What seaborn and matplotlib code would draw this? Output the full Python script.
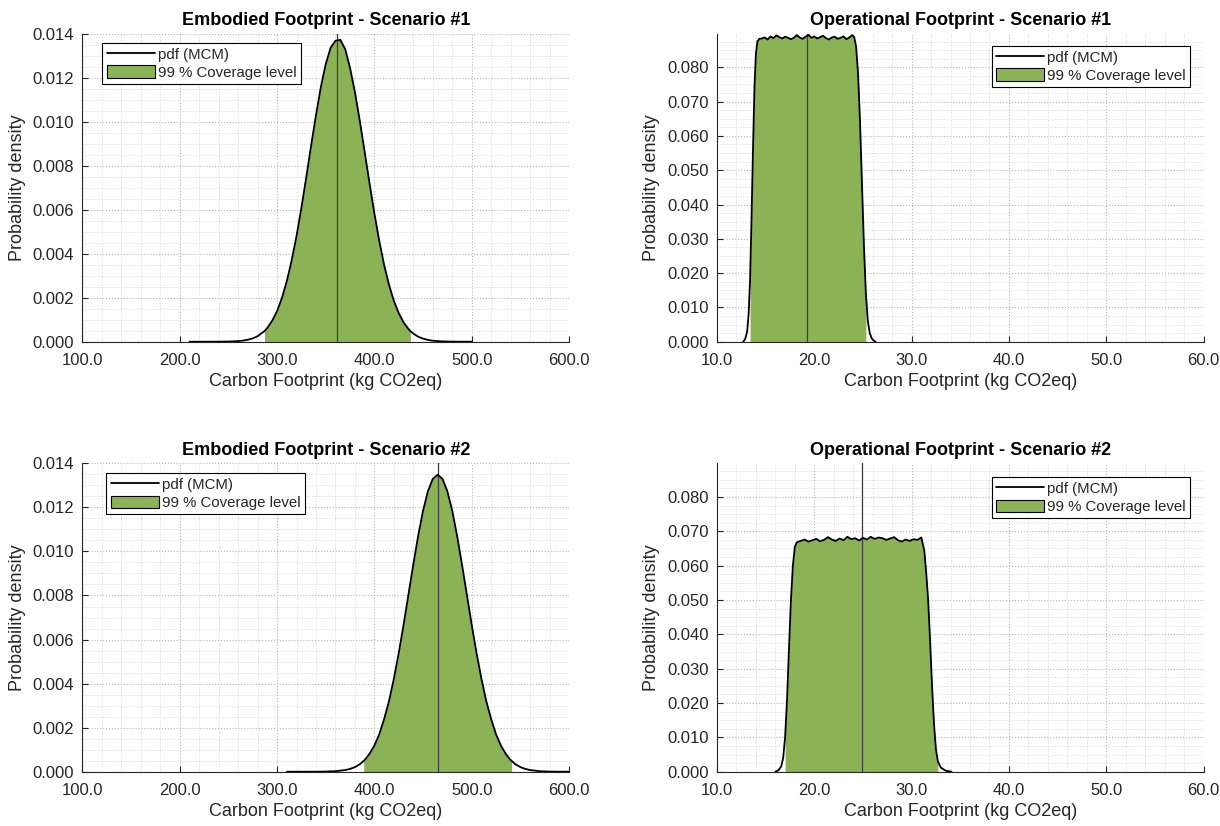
import numpy as np
import matplotlib
matplotlib.use("Agg")
import matplotlib.pyplot as plt
import seaborn as sns
from matplotlib.lines import Line2D
from matplotlib.patches import Patch
from matplotlib.ticker import MultipleLocator, FormatStrFormatter

# Embodied footprint, scenario 1
emb1_x = [210, 220, 230, 240, 250, 260, 265, 270, 275, 280, 287, 290, 295, 300, 305,
          310, 315, 320, 325, 330, 335, 340, 345, 350, 355, 360, 365, 370, 375, 380,
          385, 390, 395, 400, 405, 410, 415, 420, 425, 430, 435, 437, 440, 445, 450,
          455, 460, 470, 480, 490, 500]
emb1_pdf = [0.0, 0.0, 0.0, 0.000002, 0.000008, 0.000028, 0.000051, 0.00009, 0.000153,
            0.00025, 0.00048, 0.00063, 0.000954, 0.00139, 0.00199, 0.00275, 0.0037,
            0.00481, 0.00609, 0.00748, 0.00892, 0.0103, 0.01158, 0.01262, 0.01336,
            0.01368, 0.01372, 0.01330, 0.01244, 0.01134, 0.01004, 0.00863, 0.00720,
            0.00583, 0.00458, 0.00349, 0.00259, 0.00186, 0.0013, 0.00088, 0.00058,
            0.00048, 0.00037, 0.000228, 0.00014, 0.00008, 0.000046, 0.000014,
            0.000004, 0.000001, 0.0]
emb1_mean, emb1_lo, emb1_hi = 362, 287, 437

# Embodied footprint, scenario 2
emb2_x = [310, 320, 330, 340, 350, 360, 370, 375, 380, 385, 389, 390, 395, 400, 405,
          410, 415, 420, 425, 430, 435, 440, 445, 450, 455, 460, 465, 470, 475, 480,
          485, 490, 495, 500, 505, 510, 515, 520, 525, 530, 535, 540, 541, 545, 550,
          555, 560, 570, 580, 590, 600]
emb2_pdf = [0.0, 0.0, 0.0, 0.000002, 0.000007, 0.000024, 0.000076, 0.000129, 0.00021,
            0.00034, 0.00049, 0.00053, 0.00081, 0.00119, 0.0017, 0.00239, 0.0032,
            0.00422, 0.00538, 0.00667, 0.00804, 0.00941, 0.01071, 0.01185, 0.01273,
            0.01329, 0.01348, 0.01329, 0.01273, 0.01185, 0.01071, 0.00941, 0.00804,
            0.00667, 0.00538, 0.00422, 0.0032, 0.00239, 0.0017, 0.00119, 0.00081,
            0.00053, 0.00049, 0.00034, 0.00021, 0.000129, 0.000076, 0.000024,
            0.000007, 0.000002, 0.0]
emb2_mean, emb2_lo, emb2_hi = 465, 389, 541

# Operational footprint, scenario 1
op1_x = [12.7, 12.9, 13.1, 13.25, 13.4, 13.55, 13.7, 13.85, 14.0, 14.15, 14.35,
         14.6, 14.9, 15.2, 15.5, 15.8, 16.1, 16.4, 16.7, 17.0, 17.3, 17.6, 17.9,
         18.2, 18.5, 18.8, 19.1, 19.4, 19.7, 20.0, 20.3, 20.6, 20.9, 21.2, 21.5,
         21.8, 22.1, 22.4, 22.7, 23.0, 23.3, 23.6, 23.9,
         24.1, 24.3, 24.5, 24.7, 24.9, 25.1, 25.3, 25.5, 25.7, 25.9, 26.1, 26.3]
op1_pdf = [0.0, 0.0008, 0.003, 0.008, 0.018, 0.036, 0.056, 0.074, 0.084, 0.0875, 0.0883,
           0.0884, 0.0887, 0.0881, 0.0890, 0.0885, 0.0893, 0.0888, 0.0884, 0.0889,
           0.0886, 0.0882, 0.0886, 0.0894, 0.0887, 0.0883, 0.0889, 0.0895, 0.0886,
           0.0890, 0.0884, 0.0888, 0.0892, 0.0885, 0.0881, 0.0887, 0.0889, 0.0883,
           0.0886, 0.0890, 0.0882, 0.0887, 0.0894,
           0.0888, 0.0860, 0.0780, 0.0640, 0.0460, 0.0280, 0.0140, 0.0060, 0.0025,
           0.0010, 0.0003, 0.0]
op1_mean, op1_lo, op1_hi = 19.3, 13.4, 25.3

# Operational footprint, scenario 2
op2_x = [16.0, 16.3, 16.6, 16.8, 17.0, 17.2, 17.4, 17.6, 17.8, 18.0, 18.2,
         18.6, 19.0, 19.4, 19.8, 20.2, 20.6, 21.0, 21.4, 21.8, 22.2, 22.6, 23.0,
         23.4, 23.8, 24.2, 24.6, 25.0, 25.4, 25.8, 26.2, 26.6, 27.0, 27.4, 27.8,
         28.2, 28.6, 29.0, 29.4, 29.8, 30.2, 30.6,
         31.0, 31.3, 31.5, 31.7, 31.9, 32.1, 32.3, 32.5, 32.7, 33.0, 33.5, 34.1]
op2_pdf = [0.0, 0.0004, 0.0015, 0.004, 0.010, 0.021, 0.036, 0.050, 0.060, 0.0655, 0.0668,
           0.0672, 0.0676, 0.0670, 0.0674, 0.0678, 0.0671, 0.0675, 0.0683, 0.0676,
           0.0672, 0.0679, 0.0674, 0.0684, 0.0677, 0.0680, 0.0673, 0.0681, 0.0676,
           0.0684, 0.0678, 0.0682, 0.0680, 0.0675, 0.0679, 0.0683, 0.0674, 0.0670,
           0.0676, 0.0672, 0.0677, 0.0675,
           0.0682, 0.0645, 0.0580, 0.0500, 0.0380, 0.0250, 0.0140, 0.0065, 0.0030,
           0.0012, 0.0003, 0.0]
op2_mean, op2_lo, op2_hi = 24.9, 17.0, 32.7

titles = ["Embodied Footprint - Scenario #1", "Operational Footprint - Scenario #1",
          "Embodied Footprint - Scenario #2", "Operational Footprint - Scenario #2"]

green = "#8bb356"
txt = "#262626"

sns.set_style("ticks")
plt.rcParams["font.family"] = ["Liberation Sans", "DejaVu Sans"]

fig = plt.figure(figsize=(12.2, 8.26), dpi=100)

panels = [
    (emb1_x, emb1_pdf, emb1_mean, emb1_lo, emb1_hi, [0.0676, 0.5863, 0.3988, 0.3729],
     (100, 600), 100, 20, 0.014, 0.002, 0.0005, "upper left", (0.041, 0.971)),
    (op1_x, op1_pdf, op1_mean, op1_lo, op1_hi, [0.5877, 0.5863, 0.3988, 0.3729],
     (10, 60), 10, 2, 0.0898, 0.01, 0.0025, "upper right", (0.973, 0.961)),
    (emb2_x, emb2_pdf, emb2_mean, emb2_lo, emb2_hi, [0.0676, 0.0657, 0.3988, 0.3734],
     (100, 600), 100, 20, 0.014, 0.002, 0.0005, "upper left", (0.049, 0.969)),
    (op2_x, op2_pdf, op2_mean, op2_lo, op2_hi, [0.5877, 0.0657, 0.3988, 0.3734],
     (10, 60), 10, 2, 0.0898, 0.01, 0.0025, "upper right", (0.973, 0.956)),
]

for title, (xs, ys, mu, lo, hi, pos, xl, xmaj, xmin, ytop, ymaj, ymin, loc, anchor) in zip(titles, panels):
    ax = fig.add_axes(pos)
    xa = np.array(xs)
    ya = np.array(ys)

    # coverage interval, mean line, then the pdf on top
    ax.fill_between(xa, ya, where=(xa >= lo) & (xa <= hi), color=green, linewidth=0, zorder=2)
    ax.axvline(mu, color="#3c3c3c", linewidth=0.9, zorder=3)
    sns.lineplot(x=xa, y=ya, ax=ax, color="black", linewidth=1.3, estimator=None,
                 sort=False, zorder=4)

    ax.set_xlim(*xl)
    ax.set_ylim(0, ytop)
    ax.xaxis.set_major_locator(MultipleLocator(xmaj))
    ax.xaxis.set_minor_locator(MultipleLocator(xmin))
    ax.yaxis.set_major_locator(MultipleLocator(ymaj))
    ax.yaxis.set_minor_locator(MultipleLocator(ymin))
    ax.xaxis.set_major_formatter(FormatStrFormatter("%.1f"))
    ax.yaxis.set_major_formatter(FormatStrFormatter("%.3f"))

    ax.grid(which="major", linestyle=":", color="#b5b5b5", linewidth=0.8)
    ax.grid(which="minor", linestyle=":", color="#d6d6d6", linewidth=0.7)
    ax.set_axisbelow(True)

    for s in ["top", "right"]:
        ax.spines[s].set_visible(False)
    for s in ["left", "bottom"]:
        ax.spines[s].set_color(txt)
        ax.spines[s].set_linewidth(0.8)
    ax.tick_params(which="major", direction="in", length=4, width=0.8, colors=txt,
                   labelsize=12)
    ax.tick_params(axis="x", which="major", pad=8)
    ax.tick_params(axis="y", which="major", pad=6)
    ax.tick_params(which="minor", length=0)

    ax.set_title(title, fontsize=13, fontweight="bold", color="black", pad=6)
    ax.set_xlabel("Carbon Footprint (kg CO2eq)", fontsize=13, color=txt, labelpad=4)
    ax.set_ylabel("Probability density", fontsize=13, color=txt, labelpad=5)

    handles = [Line2D([0], [0], color="black", linewidth=1.3),
               Patch(facecolor=green, edgecolor="black", linewidth=0.8)]
    leg = ax.legend(handles, ["pdf (MCM)", "99 % Coverage level"], loc=loc,
                    bbox_to_anchor=anchor, borderaxespad=0, fontsize=10.8,
                    frameon=True, fancybox=False, framealpha=1, edgecolor="black",
                    handlelength=3.2, handleheight=0.9, handletextpad=0.2,
                    borderpad=0.3, labelspacing=0.25)
    leg.get_frame().set_linewidth(0.8)

fig.savefig("out.png", dpi=100)
